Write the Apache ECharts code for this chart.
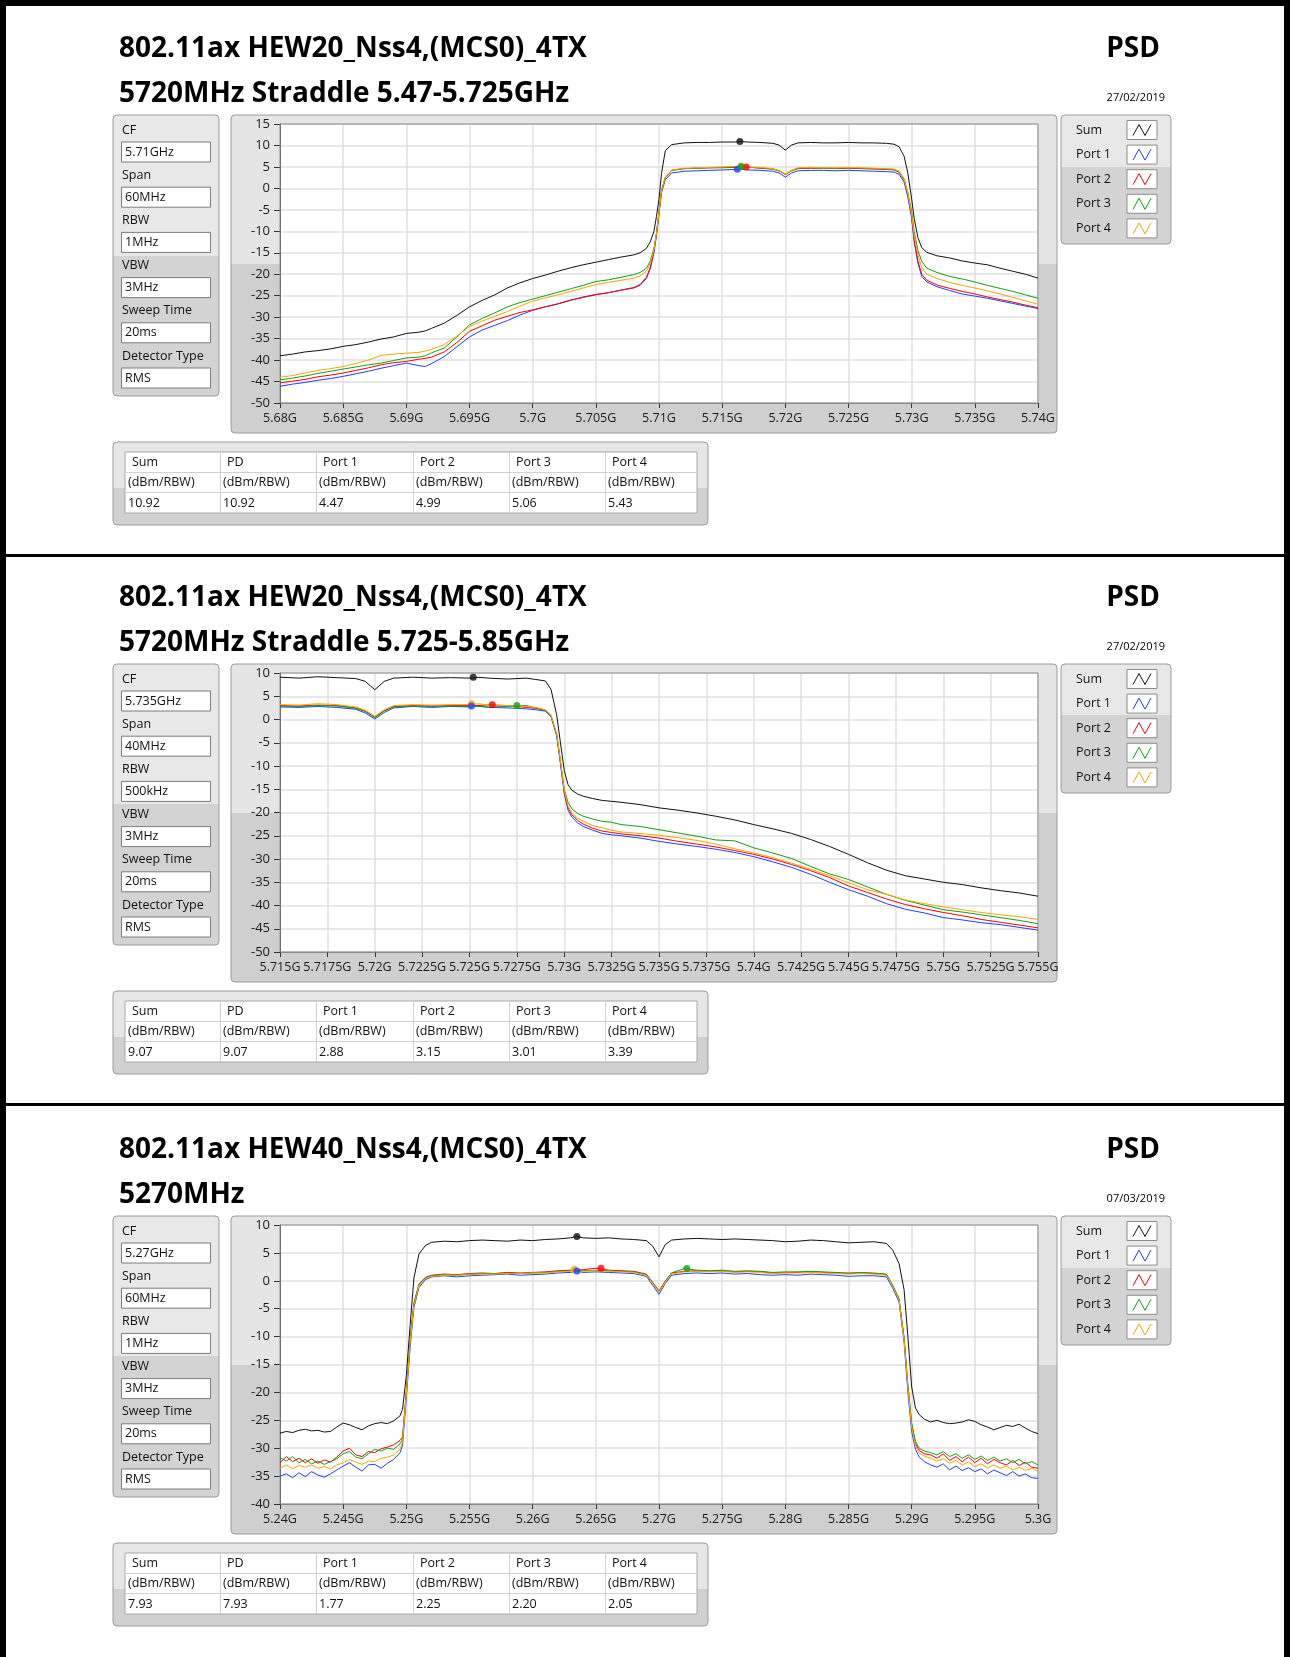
<!DOCTYPE html>
<html><head><meta charset="utf-8">
<script src="https://cdn.jsdelivr.net/npm/echarts@6/dist/echarts.min.js"></script>
<style>html,body{margin:0;padding:0;background:#fff}#c{width:1290px;height:1657px}</style>
</head><body><div id="c"></div><script>
// ---------- DATA ----------
const titles = ['802.11ax HEW20_Nss4,(MCS0)_4TX','802.11ax HEW20_Nss4,(MCS0)_4TX','802.11ax HEW40_Nss4,(MCS0)_4TX'];
const subtitles = ['5720MHz Straddle 5.47-5.725GHz','5720MHz Straddle 5.725-5.85GHz','5270MHz'];
const dates = ['27/02/2019','27/02/2019','07/03/2019'];
const paramLabels = ['CF','Span','RBW','VBW','Sweep Time','Detector Type'];
const paramValues1 = ['5.71GHz','60MHz','1MHz','3MHz','20ms','RMS'];
const paramValues2 = ['5.735GHz','40MHz','500kHz','3MHz','20ms','RMS'];
const paramValues3 = ['5.27GHz','60MHz','1MHz','3MHz','20ms','RMS'];
const seriesNames = ['Sum','Port 1','Port 2','Port 3','Port 4'];
const tableHeaders = ['Sum','PD','Port 1','Port 2','Port 3','Port 4'];
const tableUnits = ['(dBm/RBW)','(dBm/RBW)','(dBm/RBW)','(dBm/RBW)','(dBm/RBW)','(dBm/RBW)'];
const tableValues1 = ['10.92','10.92','4.47','4.99','5.06','5.43'];
const tableValues2 = ['9.07','9.07','2.88','3.15','3.01','3.39'];
const tableValues3 = ['7.93','7.93','1.77','2.25','2.20','2.05'];

// axis ranges (MHz / dBm)
const xRange1 = [5680, 5740, 5], yRange1 = [-50, 15, 5];
const xRange2 = [5715, 5755, 2.5], yRange2 = [-50, 10, 5];
const xRange3 = [5240, 5300, 5], yRange3 = [-40, 10, 5];

// ---- Chart 1 (MHz) ----
const c1Freq = [5680,5681,5682,5683,5684,5685,5686,5687,5688,5689,5690,5691,5691.5,5692,5693,5694,5695,5696,5697,5698,5699,5700,5701,5702,5703,5704,5705,5706,5707,5708,5708.5,5709,5709.3,5709.6,5709.8,5710,5710.2,5710.5,5711,5712,5713,5714,5715,5716,5716.5,5717,5718,5719,5719.5,5720,5720.5,5721,5722,5723,5724,5725,5726,5727,5728,5728.6,5729,5729.4,5729.7,5730,5730.2,5730.5,5730.8,5731.2,5732,5733,5734,5735,5736,5737,5738,5739,5740];
const c1Sum = [-39.0,-38.6,-38.1,-37.8,-37.4,-36.8,-36.4,-35.8,-35.1,-34.6,-33.8,-33.5,-33.2,-32.6,-31.4,-29.6,-27.6,-26.1,-24.8,-23.2,-22.0,-21.0,-20.2,-19.3,-18.5,-17.8,-17.2,-16.6,-16.0,-15.5,-15.0,-14.0,-12.5,-10.0,-6.5,-2.5,3.5,8.8,10.2,10.6,10.7,10.7,10.8,10.8,10.9,10.8,10.7,10.5,10.1,8.9,10.1,10.6,10.7,10.6,10.6,10.7,10.6,10.6,10.5,10.3,9.7,7.5,3.5,-2.5,-7.0,-11.5,-13.8,-14.9,-15.7,-16.2,-16.9,-17.4,-17.8,-18.6,-19.3,-20.0,-20.9];
const c1Port1 = [-46.1,-45.6,-45.2,-44.7,-44.3,-43.8,-43.2,-42.6,-41.9,-41.3,-40.7,-41.3,-41.5,-40.8,-39.2,-36.9,-34.6,-33.0,-31.9,-30.8,-29.5,-28.4,-27.6,-26.9,-26.1,-25.3,-24.7,-24.3,-23.7,-23.2,-22.6,-21.0,-18.8,-15.0,-11.0,-6.0,-1.0,2.0,3.6,4.0,4.1,4.2,4.3,4.4,4.47,4.3,4.2,4.0,3.6,2.6,3.6,4.1,4.2,4.2,4.1,4.2,4.1,4.0,3.9,3.8,3.3,1.5,-2.0,-7.0,-12.5,-17.5,-20.5,-21.8,-22.9,-23.8,-24.6,-25.1,-25.6,-26.2,-26.8,-27.4,-28.0];
const c1Port2 = [-45.3,-44.9,-44.5,-43.9,-43.5,-43.0,-42.4,-41.8,-41.1,-40.6,-40.3,-39.8,-39.6,-39.3,-38.1,-35.9,-33.3,-32.0,-30.7,-29.8,-28.9,-28.3,-27.6,-26.9,-26.0,-25.4,-24.8,-24.3,-23.7,-23.1,-22.4,-20.7,-18.5,-14.5,-10.5,-5.5,-0.5,2.5,4.2,4.6,4.7,4.8,4.8,4.9,4.9,4.95,4.7,4.5,4.1,3.2,4.1,4.6,4.7,4.7,4.6,4.7,4.6,4.5,4.4,4.3,3.8,2.0,-1.5,-6.5,-12.0,-17.0,-20.0,-21.4,-22.5,-23.3,-24.0,-24.6,-25.3,-25.9,-26.5,-27.2,-27.8];
const c1Port3 = [-44.6,-44.2,-43.7,-43.1,-42.6,-42.1,-41.6,-41.1,-40.7,-40.1,-39.5,-39.3,-39.0,-38.3,-37.2,-34.6,-31.8,-30.3,-29.0,-27.6,-26.6,-25.8,-25.0,-24.2,-23.4,-22.6,-21.7,-21.3,-20.7,-20.1,-19.6,-18.6,-17.0,-14.0,-10.5,-5.5,-0.5,2.5,4.2,4.6,4.7,4.8,4.9,5.0,5.06,4.9,4.8,4.5,4.1,3.3,4.2,4.7,4.8,4.7,4.7,4.8,4.7,4.6,4.5,4.4,3.9,2.2,-1.0,-5.5,-10.0,-14.5,-17.0,-18.6,-19.6,-20.5,-21.1,-21.8,-22.6,-23.3,-24.0,-24.8,-25.6];
const c1Port4 = [-44.0,-43.6,-43.0,-42.4,-42.0,-41.5,-40.8,-40.0,-38.9,-38.6,-38.4,-38.2,-37.9,-37.5,-36.4,-34.4,-32.2,-30.9,-29.8,-28.7,-27.4,-26.3,-25.5,-24.8,-24.0,-23.2,-22.4,-21.9,-21.4,-20.9,-20.4,-19.3,-17.5,-14.2,-10.5,-5.5,-0.5,2.6,4.3,4.7,4.8,4.9,5.0,5.1,5.2,5.0,4.9,4.6,4.2,3.3,4.2,4.8,4.9,4.8,4.8,4.9,4.8,4.7,4.6,4.5,4.0,2.2,-1.2,-6.0,-11.0,-15.5,-18.5,-20.0,-21.0,-21.9,-22.6,-23.2,-23.9,-24.6,-25.4,-26.2,-27.0];
const c1PeakFreq = [5716.4,5716.2,5716.9,5716.5,5716.5];
const c1PeakVal = [10.92,4.47,4.99,5.06,5.2];

// ---- Chart 2 ----
const c2Freq = [5715,5716,5717,5718,5719,5719.5,5720,5720.5,5721,5722,5723,5724,5725,5725.5,5726,5727,5728,5728.5,5729,5729.3,5729.6,5729.8,5730,5730.2,5730.4,5730.7,5731,5731.5,5732,5732.5,5733,5734,5735,5736,5737,5738,5739,5740,5741,5742,5743,5744,5745,5746,5747,5748,5749,5750,5751,5752,5753,5754,5755];
const c2Sum = [9.1,8.9,9.2,9.0,8.8,8.2,6.4,8.2,8.9,9.1,8.9,9.0,8.9,9.07,8.9,8.7,8.9,8.6,8.3,6.5,1.0,-5.0,-11.0,-14.0,-15.2,-16.0,-16.5,-17.0,-17.4,-17.6,-17.8,-18.3,-19.0,-19.5,-20.1,-20.8,-21.6,-22.6,-23.5,-24.5,-25.8,-27.3,-29.0,-30.8,-32.4,-33.6,-34.3,-35.0,-35.5,-36.2,-36.8,-37.3,-38.0];
const c2Port1 = [2.7,2.6,2.8,2.6,2.2,1.4,0.1,1.5,2.5,2.8,2.6,2.8,2.7,2.88,2.6,2.5,2.3,2.1,1.8,0.6,-3.5,-9.5,-16.0,-19.5,-21.0,-22.2,-23.0,-23.8,-24.5,-24.8,-25.0,-25.5,-26.2,-26.8,-27.3,-27.9,-28.6,-29.5,-30.6,-31.8,-33.3,-35.0,-36.6,-38.0,-39.6,-40.8,-41.6,-42.6,-43.1,-43.7,-44.1,-44.7,-45.3];
const c2Port2 = [3.0,2.9,3.1,3.0,2.5,1.8,0.5,1.9,2.8,3.0,2.9,3.0,3.0,3.0,3.15,3.0,2.6,2.4,2.0,0.8,-3.2,-9.2,-15.6,-19.0,-20.5,-21.7,-22.5,-23.4,-24.0,-24.3,-24.6,-25.0,-25.5,-26.2,-26.8,-27.4,-28.2,-29.0,-30.0,-31.2,-32.5,-34.0,-35.8,-37.2,-38.6,-39.8,-40.7,-41.5,-42.2,-43.0,-43.6,-44.2,-44.8];
const c2Port3 = [2.9,2.8,3.0,2.9,2.4,1.7,0.4,1.8,2.7,2.9,2.8,2.9,2.8,2.8,2.7,2.8,3.0,2.5,2.0,0.8,-3.2,-9.0,-15.0,-17.8,-19.2,-20.2,-20.8,-21.4,-21.9,-22.1,-22.6,-23.0,-23.7,-24.4,-25.1,-25.9,-26.1,-27.6,-28.7,-29.9,-31.6,-33.2,-34.4,-36.0,-37.6,-38.9,-39.9,-40.9,-41.4,-42.0,-42.6,-43.2,-43.9];
const c2Port4 = [3.2,3.1,3.4,3.2,2.7,2.0,0.7,2.1,3.0,3.2,3.1,3.2,3.2,3.39,3.1,3.0,2.8,2.6,2.1,0.9,-3.0,-8.8,-15.2,-18.6,-20.2,-21.2,-21.9,-22.8,-23.3,-23.8,-24.2,-24.5,-24.9,-25.4,-26.0,-26.8,-27.8,-28.7,-29.7,-30.9,-32.2,-33.6,-35.1,-36.6,-37.6,-38.8,-39.6,-40.3,-40.9,-41.5,-42.0,-42.4,-43.0];
const c2PeakFreq = [5725.2,5725.1,5726.2,5727.5,5725.1];
const c2PeakVal = [9.07,2.88,3.15,3.01,3.39];

// ---- Chart 3 ----
const c3Freq = [5240,5240.5,5241,5241.5,5242,5242.5,5243,5243.5,5244,5244.5,5245,5245.5,5246,5246.5,5247,5247.5,5248,5248.5,5249,5249.5,
5249.7,5250,5250.3,5250.6,5251,5251.5,
5252,5253,5254,5255,5256,5257,5258,5259,5260,5261,5262,5263,5263.5,5264,5265,5266,5267,5268,5269,5269.5,5270,5270.5,
5271,5272,5273,5274,5275,5276,5277,5278,5279,5280,5281,5282,5283,5284,5285,5286,5287,5288,
5288.5,5289,5289.4,5289.7,5290,5290.3,5290.6,5291,5291.5,
5292,5292.5,5293,5293.5,5294,5294.5,5295,5295.5,5296,5296.5,5297,5297.5,5298,5298.5,5299,5299.5,5300];
const c3Sum = [-27.3,-27.0,-27.2,-26.8,-26.6,-26.9,-26.8,-27.1,-27.0,-26.2,-25.5,-25.8,-26.3,-26.7,-26.0,-25.6,-25.4,-25.6,-25.1,-24.2,
-23.0,-17.0,-8.0,0.5,4.8,6.3,
6.9,7.1,7.0,7.2,7.3,7.2,7.1,7.3,7.2,7.4,7.5,7.7,7.93,7.7,7.6,7.7,7.5,7.4,7.2,6.2,4.3,6.5,
7.3,7.5,7.6,7.5,7.4,7.5,7.4,7.3,7.2,7.0,7.1,7.3,7.2,7.0,6.8,6.9,7.0,6.7,
5.5,3.1,-1.6,-10.0,-19.0,-22.8,-24.0,-24.8,-25.3,
-25.0,-25.4,-25.6,-25.5,-25.3,-24.9,-25.2,-25.8,-26.2,-26.7,-26.3,-25.9,-26.1,-25.7,-26.4,-27.0,-27.4];
const c3Port1 = [-35.0,-34.6,-35.3,-34.4,-35.1,-34.2,-34.8,-35.2,-34.6,-33.9,-33.2,-32.6,-33.4,-34.1,-33.0,-32.9,-33.6,-32.7,-32.0,-30.8,
-29.5,-21.0,-12.0,-4.8,-1.2,0.2,
0.7,0.9,0.7,0.9,1.0,1.1,1.2,1.0,1.1,1.2,1.4,1.5,1.77,1.5,1.6,1.5,1.4,1.3,0.8,-0.8,-2.4,-0.5,
1.0,1.3,1.4,1.3,1.4,1.2,1.3,1.1,1.0,1.1,1.0,1.2,1.1,1.0,0.8,0.9,0.9,0.7,
-1.3,-3.8,-11.0,-20.0,-27.0,-30.2,-31.6,-32.4,-33.0,
-33.4,-32.8,-33.9,-33.2,-34.0,-33.5,-34.2,-33.7,-34.6,-33.9,-34.4,-34.9,-34.2,-35.0,-34.6,-35.3,-35.4];
const c3Port2 = [-32.6,-31.5,-32.4,-31.8,-32.6,-31.9,-32.7,-32.1,-32.5,-31.6,-30.5,-30.0,-31.2,-31.5,-30.6,-30.8,-30.1,-29.8,-29.4,-28.6,
-28.0,-19.8,-10.5,-4.0,-0.6,0.6,
1.0,1.2,1.1,1.3,1.4,1.3,1.5,1.4,1.5,1.6,1.8,1.9,1.9,2.0,2.25,1.9,1.8,1.7,1.2,-0.3,-1.8,0.0,
1.4,1.7,1.8,1.7,1.8,1.6,1.7,1.6,1.4,1.5,1.5,1.6,1.5,1.4,1.3,1.4,1.3,1.1,
-0.9,-3.3,-10.3,-18.8,-25.8,-29.2,-30.4,-31.0,-31.2,
-31.8,-31.0,-32.2,-31.5,-32.4,-31.6,-32.6,-31.8,-32.8,-32.0,-32.6,-33.0,-32.2,-33.1,-32.5,-33.4,-33.6];
const c3Port3 = [-31.7,-32.3,-31.5,-32.6,-32.0,-32.8,-32.3,-32.9,-32.4,-31.9,-31.0,-30.6,-31.6,-31.9,-31.0,-30.2,-30.5,-30.0,-30.2,-29.2,
-28.4,-19.9,-10.6,-4.1,-0.7,0.5,
0.9,1.1,1.0,1.2,1.3,1.3,1.4,1.3,1.4,1.5,1.7,1.8,1.8,1.8,1.9,1.8,1.7,1.6,1.1,-0.4,-1.9,-0.1,
1.4,2.2,1.9,1.8,1.9,1.7,1.8,1.7,1.5,1.6,1.6,1.7,1.6,1.5,1.4,1.5,1.4,1.2,
-0.8,-3.2,-10.2,-18.6,-25.5,-28.8,-30.0,-30.5,-30.8,
-31.2,-30.6,-31.5,-31.0,-31.8,-31.2,-32.0,-31.4,-32.2,-31.6,-32.3,-31.9,-32.6,-32.0,-32.8,-32.4,-33.0];
const c3Port4 = [-33.6,-33.0,-33.7,-33.1,-33.4,-33.0,-33.6,-33.3,-33.7,-33.0,-32.6,-32.0,-32.5,-32.9,-32.3,-32.4,-31.8,-31.6,-31.2,-30.2,
-28.8,-20.4,-11.0,-4.4,-0.9,0.4,
0.8,1.0,1.0,1.1,1.2,1.2,1.3,1.3,1.4,1.4,1.6,1.7,1.7,1.7,1.8,1.7,1.6,1.5,1.0,-0.5,-2.0,-0.2,
1.2,1.6,1.7,1.6,1.7,1.5,1.6,1.5,1.3,1.4,1.4,1.5,1.4,1.3,1.2,1.3,1.2,1.0,
-1.0,-3.5,-10.6,-19.2,-26.2,-29.6,-30.9,-31.4,-31.8,
-32.3,-31.9,-32.7,-32.2,-33.0,-32.5,-33.3,-32.8,-33.5,-33.0,-33.6,-33.2,-33.9,-33.4,-34.0,-33.6,-34.2];
const c3PeakFreq = [5263.5,5263.5,5265.4,5272.2,5263.3];
const c3PeakVal = [7.93,1.77,2.25,2.2,2.05];

// ---------- STYLE / LAYOUT ----------
const COLORS = ['#111111','#1f3fff','#ff0000','#12a012','#ffa500'];
const FONT = '"Open Sans", "DejaVu Sans", sans-serif';
const OFF = [0, 549, 1101];

const charts = [
  {freq:c1Freq, ys:[c1Sum,c1Port1,c1Port2,c1Port3,c1Port4], pf:c1PeakFreq, pv:c1PeakVal, xr:xRange1, yr:yRange1, params:paramValues1, table:tableValues1},
  {freq:c2Freq, ys:[c2Sum,c2Port1,c2Port2,c2Port3,c2Port4], pf:c2PeakFreq, pv:c2PeakVal, xr:xRange2, yr:yRange2, params:paramValues2, table:tableValues2},
  {freq:c3Freq, ys:[c3Sum,c3Port1,c3Port2,c3Port3,c3Port4], pf:c3PeakFreq, pv:c3PeakVal, xr:xRange3, yr:yRange3, params:paramValues3, table:tableValues3}
];

function grad(split, a, b) {
  return {type:'linear', x:0, y:0, x2:0, y2:1, colorStops:[
    {offset:0, color:a}, {offset:split, color:a}, {offset:split, color:b}, {offset:1, color:b}]};
}
function T(x, y, s, font, align, color, z) {
  return {type:'text', x:x, y:y, z:z||20, silent:true,
    style:{text:s, font:font, fill:color||'#000', align:align||'left', textAlign:align||'left',
           verticalAlign:'middle', textVerticalAlign:'middle'}};
}
function R(x, y, w, h, fill, stroke, r, z, lw) {
  return {type:'rect', z:z, silent:true, shape:{x:x, y:y, width:w, height:h, r:r||0},
    style:{fill:fill, stroke:stroke||null, lineWidth:lw||1}};
}
function L(x1, y1, x2, y2, color, z, lw) {
  return {type:'line', z:z||1, silent:true, shape:{x1:x1,y1:y1,x2:x2,y2:y2}, style:{stroke:color, lineWidth:lw||1}};
}

const graphics = [];
// page border
graphics.push(R(0,0,1290,6,'#000',null,0,30));
graphics.push(R(0,0,6,1657,'#000',null,0,30));
graphics.push(R(1284,0,6,1657,'#000',null,0,30));
graphics.push(R(0,554,1290,3,'#000',null,0,30));
graphics.push(R(0,1103,1290,3,'#000',null,0,30));

const SMALL = '12.5px ' + FONT;
charts.forEach((c, k) => {
  const oy = OFF[k];
  // titles
  graphics.push(T(119, 49+oy, titles[k], 'bold 28px ' + FONT, 'left'));
  graphics.push(T(1160, 49+oy, 'PSD', 'bold 28px ' + FONT, 'right'));
  graphics.push(T(119, 94+oy, subtitles[k], 'bold 28px ' + FONT, 'left'));
  graphics.push(T(1165, 98+oy, dates[k], '11px ' + FONT, 'right'));
  // left parameter panel
  graphics.push(R(113, 115+oy, 106, 281, grad(0.5,'#e8e8e8','#d3d3d3'), '#9c9c9c', 4, -10));
  paramLabels.forEach((lab, i) => {
    const fy = 142 + i*45.2 + oy;
    graphics.push(T(122, fy-12, lab, SMALL, 'left', '#111'));
    graphics.push(R(121.5, fy, 89, 20, '#fff', '#7d7d7d', 0, -4));
    graphics.push(T(125, fy+10, c.params[i], SMALL, 'left', '#111'));
  });
  // plot frame
  graphics.push(R(231, 115+oy, 826, 318, grad(0.47,'#e5e5e5','#cfcfcf'), '#9c9c9c', 4, -10));
  graphics.push(R(280, 124+oy, 758, 279, '#fff', null, 0, -5));
  graphics.push(R(280, 124+oy, 758, 279, null, '#8a8a8a', 0, 1));
  // legend
  graphics.push(R(1061, 115+oy, 110, 129, grad(0.4,'#e8e8e8','#d3d3d3'), '#9c9c9c', 4, -10));
  seriesNames.forEach((n, i) => {
    const cy = 130 + i*24.6 + oy;
    graphics.push(T(1076, cy, n, SMALL, 'left', '#111'));
    graphics.push(R(1127, cy-9.5, 30, 19, '#fff', '#8d8d8d', 0, -4));
    graphics.push({type:'polyline', z:5, silent:true,
      shape:{points:[[1133,cy+5.5],[1139,cy-5.5],[1145,cy+5.5],[1151,cy-5.5]]},
      style:{stroke:COLORS[i], fill:null, lineWidth:1}});
  });
  // table
  graphics.push(R(113, 442+oy, 595, 83, grad(0.55,'#e6e6e6','#d0d0d0'), '#9c9c9c', 4, -10));
  graphics.push(R(125, 452+oy, 572, 61, '#fff', '#a8a8a8', 0, -4));
  graphics.push(L(125, 472.5+oy, 697, 472.5+oy, '#d0d0d0', 1));
  graphics.push(L(125, 492.5+oy, 697, 492.5+oy, '#d0d0d0', 1));
  const colX = [125, 220, 316, 413, 509, 605];
  colX.forEach((x, i) => {
    if (i > 0) graphics.push(L(x+0.5, 452+oy, x+0.5, 513+oy, '#d0d0d0', 1));
    graphics.push(T(x+7, 462+oy, tableHeaders[i], SMALL, 'left', '#111'));
    graphics.push(T(x+3, 482.5+oy, tableUnits[i], SMALL, 'left', '#111'));
    graphics.push(T(x+3, 503+oy, c.table[i], SMALL, 'left', '#111'));
  });
});

const gHz = v => (v/1000) + 'G';
const option = {
  animation:false,
  backgroundColor:'#fff',
  textStyle:{fontFamily:FONT},
  grid: charts.map((c,k) => ({left:280, top:124+OFF[k], width:758, height:279, containLabel:false})),
  xAxis: charts.map((c,k) => ({
    type:'value', gridIndex:k, min:c.xr[0], max:c.xr[1], interval:c.xr[2],
    axisLine:{show:true, onZero:false, lineStyle:{color:'#8a8a8a'}},
    axisTick:{show:true, length:5, lineStyle:{color:'#333'}},
    axisLabel:{formatter:gHz, color:'#1a1a1a', fontSize:12.5, fontFamily:FONT, margin:9, showMinLabel:true, showMaxLabel:true, hideOverlap:false},
    splitLine:{show:true, lineStyle:{color:'#e0e0e0', width:1.5}}
  })),
  yAxis: charts.map((c,k) => ({
    type:'value', gridIndex:k, min:c.yr[0], max:c.yr[1], interval:c.yr[2],
    axisLine:{show:true, onZero:false, lineStyle:{color:'#555'}},
    axisTick:{show:true, length:6, lineStyle:{color:'#333'}},
    axisLabel:{color:'#1a1a1a', fontSize:13, fontFamily:FONT, margin:10, showMinLabel:true, showMaxLabel:true},
    splitLine:{show:true, lineStyle:{color:'#e0e0e0', width:1.5}}
  })),
  series: [],
  graphic:{elements:graphics}
};

charts.forEach((c,k) => {
  c.ys.forEach((ys, i) => {
    option.series.push({
      type:'line', name:seriesNames[i], xAxisIndex:k, yAxisIndex:k,
      data:c.freq.map((f,j) => [f, ys[j]]),
      showSymbol:false, symbol:'none', z:2+i*0.01,
      lineStyle:{color:COLORS[i], width:1}, itemStyle:{color:COLORS[i]}
    });
  });
  const order = [0,4,1,2,3];
  option.series.push({
    type:'scatter', xAxisIndex:k, yAxisIndex:k, z:4, symbolSize:7,
    data: order.map(i => ({value:[c.pf[i], c.pv[i]], itemStyle:{color:COLORS[i]}}))
  });
});

const chart = echarts.init(document.getElementById('c'), null, {renderer:'canvas'});
chart.setOption(option);
</script></body></html>
